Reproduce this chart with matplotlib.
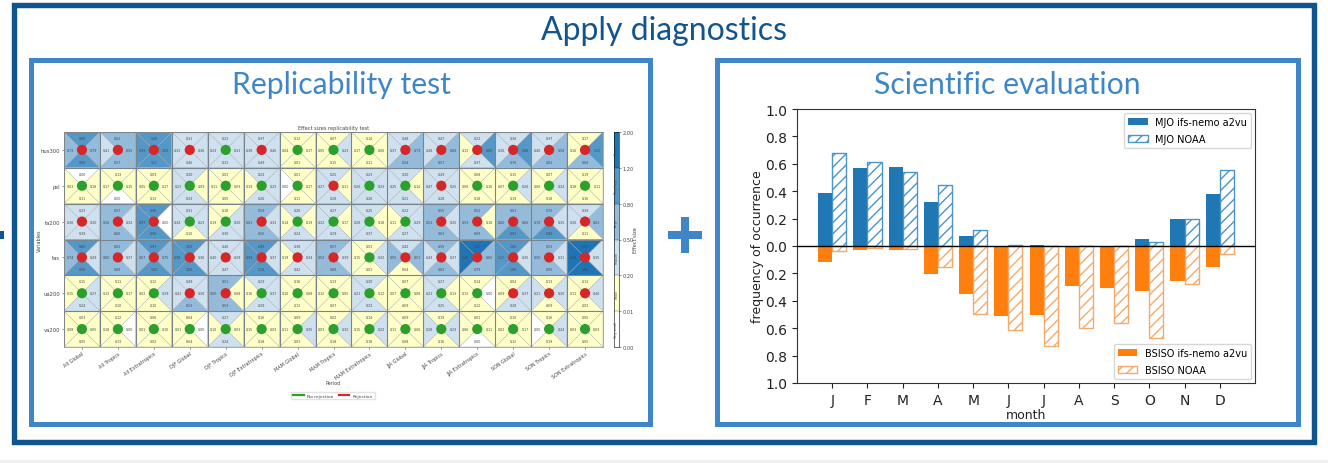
import numpy as np
import matplotlib
matplotlib.use('Agg')
import matplotlib.pyplot as plt
from matplotlib.collections import PolyCollection
from matplotlib.colors import BoundaryNorm, ListedColormap
from matplotlib.lines import Line2D
from matplotlib.patches import Rectangle

W, H = 1328, 464

# replicability test data, one row per variable, one column per period
variables = ['hus300', 'psl', 'ta200', 'tas', 'ua200', 'va200']
periods = ['All Global', 'All Tropics', 'All Extratropics', 'DJF Global', 'DJF Tropics', 'DJF Extratropics',
           'MAM Global', 'MAM Tropics', 'MAM Extratropics', 'JJA Global', 'JJA Tropics', 'JJA Extratropics',
           'SON Global', 'SON Tropics', 'SON Extratropics']
effect_top = [
    [.86, .62, 1.08, .31, .23, .37, .12, .07, .14, .48, .47, .22, .36, .37, .17],
    [.00, .13, .09, .30, .03, .23, .01, .25, .23, .30, .49, .08, .15, .07, .19],
    [.33, .57, .96, .31, .18, .59, .26, .27, .25, .22, .55, .52, .61, .70, .39],
    [.80, .62, .97, 1.03, .46, .99, .38, .57, .03, .42, .55, 1.22, 1.06, .53, 1.41],
    [.15, .11, .12, .49, .51, .23, .16, .13, .20, .07, .27, .14, .04, .13, .13],
    [.03, .12, .06, .04, .27, .16, .09, .02, .14, .09, .19, .01, .10, .16, .05]]
effect_left = [
    [.73, .41, .99, .33, .23, .38, .04, .05, .17, .37, .48, .13, .36, .40, .16],
    [.03, .17, .05, .21, .11, .19, .00, .27, .26, .25, .47, .06, .07, .06, .18],
    [.36, .56, .97, .34, .19, .61, .14, .22, .28, .11, .53, .59, .60, .78, .36],
    [.74, .60, .67, .98, .40, .94, .19, .52, .15, .55, .43, 1.23, 1.17, .50, 1.39],
    [.15, .13, .02, .41, .50, .16, .10, .12, .21, .07, .21, .13, .09, .21, .11],
    [.08, .18, .01, .01, .10, .15, .11, .03, .15, .11, .28, .06, .02, .00, .03]]
effect_right = [
    [.79, .55, 1.03, .36, .31, .46, .17, .23, .06, .79, .68, .86, .88, .58, 1.15],
    [.18, .15, .17, .09, .03, .23, .17, .11, .23, .14, .25, .16, .26, .24, .11],
    [.30, .32, .00, .23, .30, .33, .19, .17, .18, .29, .35, .18, .66, .35, .63],
    [.49, .37, .75, .36, .39, .37, .34, .39, .32, .51, .37, .60, .35, .31, .35],
    [.27, .17, .39, .30, .08, .37, .08, .05, .12, .08, .13, .00, .37, .30, .40],
    [.05, .00, .10, .00, .03, .03, .35, .32, .22, .06, .23, .11, .17, .24, .03]]
effect_bottom = [
    [.90, .57, 1.11, .46, .31, .49, .01, .15, .11, .54, .57, .37, .76, .62, .68],
    [.11, .00, .13, .33, .05, .26, .11, .28, .26, .21, .28, .18, .19, .18, .16],
    [.39, .66, .90, .10, .30, .56, .24, .29, .37, .27, .63, .69, .81, .90, .11],
    [.90, .68, 1.02, 1.03, .47, 1.19, .42, .68, .01, .04, .62, .79, 1.08, .55, 1.63],
    [.24, .10, .10, .53, .53, .39, .13, .07, .23, .09, .25, .12, .28, .09, .03],
    [.05, .13, .02, .04, .24, .18, .03, .18, .18, .08, .16, .00, .12, .19, .05]]
rejected = [
    [1, 1, 1, 1, 0, 1, 0, 0, 0, 1, 1, 1, 1, 1, 1],
    [0, 0, 0, 0, 0, 0, 0, 1, 0, 0, 1, 0, 0, 0, 0],
    [1, 1, 1, 0, 0, 1, 0, 0, 0, 0, 1, 1, 1, 1, 1],
    [1, 1, 1, 1, 1, 1, 1, 1, 0, 1, 1, 1, 1, 1, 1],
    [0, 0, 0, 1, 1, 0, 0, 0, 0, 0, 0, 0, 1, 1, 1],
    [0, 0, 0, 0, 0, 0, 0, 0, 0, 0, 0, 0, 0, 0, 0]]
effect_bounds = [0.00, 0.01, 0.20, 0.50, 0.80, 1.20, 2.00]
effect_names = ['Very small', 'Small', 'Medium', 'Large', 'Very large', 'Huge']

# scientific evaluation data
months = ['J', 'F', 'M', 'A', 'M', 'J', 'J', 'A', 'S', 'O', 'N', 'D']
mjo_model = [.39, .57, .575, .32, .075, .0, .005, .0, .0, .05, .20, .38]
mjo_noaa = [.68, .61, .54, .445, .12, .005, .0, .0, .0, .03, .195, .555]
bsiso_model = [.12, .03, .03, .205, .35, .51, .50, .29, .305, .325, .255, .15]
bsiso_noaa = [.035, .015, .02, .15, .495, .61, .73, .60, .56, .67, .28, .055]

DARK = '#10558f'
MID = '#3f86c8'
TXT = '#444444'
plt.rcParams['hatch.linewidth'] = 1.0


def px_axes(x0, y0, x1, y1):
    # axes from pixel box, y counted from the top of the picture
    return fig.add_axes([x0 / W, 1 - y1 / H, (x1 - x0) / W, (y1 - y0) / H])


fig = plt.figure(figsize=(W / 100, H / 100), dpi=100)

# frames, headings and the plus sign
bg = fig.add_axes([0, 0, 1, 1])
bg.set_xlim(0, W)
bg.set_ylim(H, 0)
bg.axis('off')
bg.add_patch(Rectangle((0, 461), W, 3, fc='#eeeeee', ec='none'))
bg.add_patch(Rectangle((13.7, 5.7), 1300.5, 437.5, fc='none', ec=DARK, lw=3.9))
bg.add_patch(Rectangle((31, 60.5), 618.5, 364, fc='none', ec=MID, lw=3.6))
bg.add_patch(Rectangle((717, 60.5), 581, 364, fc='none', ec=MID, lw=3.6))
bg.add_patch(Rectangle((0, 232), 3.5, 8, fc=DARK, ec='none'))
bg.add_patch(Rectangle((668, 232), 34, 8, fc=MID, ec='none'))
bg.add_patch(Rectangle((681, 218), 8, 36, fc=MID, ec='none'))
bg.text(664, 31, 'Apply diagnostics', color=DARK, family='Lato', fontsize=23, ha='center', va='center')
bg.text(341, 85, 'Replicability test', color=MID, family='Lato', fontsize=21.7, ha='center', va='center')
bg.text(1007, 85, 'Scientific evaluation', color=MID, family='Lato', fontsize=21.7, ha='center', va='center')

# effect size grid
cmap = ListedColormap(['#ffffff', '#ffffc8', '#cfe0ef', '#93bbdb', '#5598c8', '#1f74b4'])
norm = BoundaryNorm(effect_bounds, cmap.N)
ax = px_axes(64, 133, 603, 348)
polys = []
vals = []
for r in range(len(variables)):
    for c in range(len(periods)):
        a, b, d, e = (c, r), (c + 1, r), (c + 1, r + 1), (c, r + 1)
        m = (c + .5, r + .5)
        polys += [[a, b, m], [e, a, m], [b, d, m], [d, e, m]]
        vals += [effect_top[r][c], effect_left[r][c], effect_right[r][c], effect_bottom[r][c]]
        ax.text(c + .5, r + .17, '%.2f' % effect_top[r][c], fontsize=2.3, color=TXT, ha='center', va='center')
        ax.text(c + .5, r + .83, '%.2f' % effect_bottom[r][c], fontsize=2.3, color=TXT, ha='center', va='center')
        ax.text(c + .17, r + .5, '%.2f' % effect_left[r][c], fontsize=2.3, color=TXT, ha='center', va='center')
        ax.text(c + .83, r + .5, '%.2f' % effect_right[r][c], fontsize=2.3, color=TXT, ha='center', va='center')
tris = PolyCollection(polys, array=np.array(vals), cmap=cmap, norm=norm, edgecolors='#a3a8ad', linewidths=0.25)
ax.add_collection(tris)
grid_x, grid_y = np.meshgrid(np.arange(len(periods)) + .5, np.arange(len(variables)) + .5)
dot_colors = ['tab:red' if v else 'tab:green' for v in np.array(rejected).ravel()]
ax.scatter(grid_x.ravel(), grid_y.ravel(), s=54, c=dot_colors, zorder=3, linewidths=0)
ax.vlines(np.arange(len(periods) + 1), 0, len(variables), color='#7a848c', lw=0.8, zorder=2)
ax.hlines(np.arange(len(variables) + 1), 0, len(periods), color='#7a848c', lw=0.8, zorder=2)
ax.set_xlim(0, len(periods))
ax.set_ylim(len(variables), 0)
ax.set_xticks(np.arange(len(periods)) + .5)
ax.set_xticklabels(periods, rotation=35, ha='right', rotation_mode='anchor', fontsize=3.5, color=TXT)
ax.set_yticks(np.arange(len(variables)) + .5)
ax.set_yticklabels(variables, fontsize=3.8, color=TXT)
ax.tick_params(length=1.5, width=0.4, pad=1.2, color=TXT)
for s in ax.spines.values():
    s.set_linewidth(0.5)
    s.set_color('#888888')
ax.set_title('Effect sizes replicability test', fontsize=3.6, color=TXT, pad=2)
ax.set_xlabel('Period', fontsize=3.5, color=TXT, labelpad=0)
ax.set_ylabel('Variables', fontsize=3.5, color=TXT, labelpad=-1)
handles = [Line2D([], [], color='tab:green', lw=1.6, label='No rejection'),
           Line2D([], [], color='tab:red', lw=1.6, label='Rejection')]
ax.legend(handles=handles, ncol=2, fontsize=3.2, loc='center', bbox_to_anchor=((333 - 64) / 539, -(396.5 - 348) / 215),
          frameon=True, edgecolor='#dddddd', labelcolor=TXT, handlelength=2.4, borderpad=0.4, columnspacing=1.1)

# colour bar next to the grid
cax = px_axes(614, 133, 618.5, 348)
sm = plt.cm.ScalarMappable(norm=norm, cmap=cmap)
cb = fig.colorbar(sm, cax=cax, spacing='uniform', ticks=effect_bounds, drawedges=True)
cb.ax.set_yticklabels(['%.2f' % v for v in effect_bounds], fontsize=3.6, color=TXT)
cb.ax.tick_params(length=1.5, width=0.4, pad=1.5, color=TXT)
cb.outline.set_linewidth(0.4)
cb.dividers.set_linewidth(0.2)
cb.set_label('Effect size', fontsize=3.6, color=TXT, labelpad=-1)
for i, name in enumerate(effect_names):
    cax.text(0.5, (i + .5) / len(effect_names), name, transform=cax.transAxes, rotation=90,
             fontsize=2.2, color=TXT, ha='center', va='center')

# bar chart
x = np.arange(len(months))
ax2 = px_axes(797, 110, 1255, 384)
l1 = ax2.bar(x - .2, mjo_model, .4, color='tab:blue', label='MJO ifs-nemo a2vu')
l2 = ax2.bar(x + .2, mjo_noaa, .4, color='white', edgecolor='#4b95c8', hatch='///', label='MJO NOAA', lw=1)
l3 = ax2.bar(x - .2, -np.array(bsiso_model), .4, color='tab:orange', label='BSISO ifs-nemo a2vu')
l4 = ax2.bar(x + .2, -np.array(bsiso_noaa), .4, color='white', edgecolor='#f2ab6d', hatch='///', label='BSISO NOAA', lw=1)
ax2.axhline(0, color='black', lw=1, zorder=5)
ax2.set_xlim(-1, 12)
ax2.set_ylim(-1, 1)
ax2.set_xticks(x)
ax2.set_xticklabels(months)
ticks = np.arange(-1, 1.01, .2)
ax2.set_yticks(ticks)
ax2.set_yticklabels(['%.1f' % abs(t) for t in ticks])
ax2.tick_params(labelsize=10, length=3.5, width=0.8, pad=3.5, colors='#222222')
for s in ax2.spines.values():
    s.set_color('#333333')
ax2.set_xlabel('month', fontsize=9, color='#222222', labelpad=1)
ax2.set_ylabel('frequency of occurrence', fontsize=9, color='#222222', labelpad=1)
leg = ax2.legend(handles=[l1, l2], loc='upper right', fontsize=7, borderaxespad=0.4, labelspacing=0.75)
ax2.add_artist(leg)
ax2.legend(handles=[l3, l4], loc='lower right', fontsize=7, borderaxespad=0.4, labelspacing=0.75)

fig.savefig('out.png', dpi=100)
